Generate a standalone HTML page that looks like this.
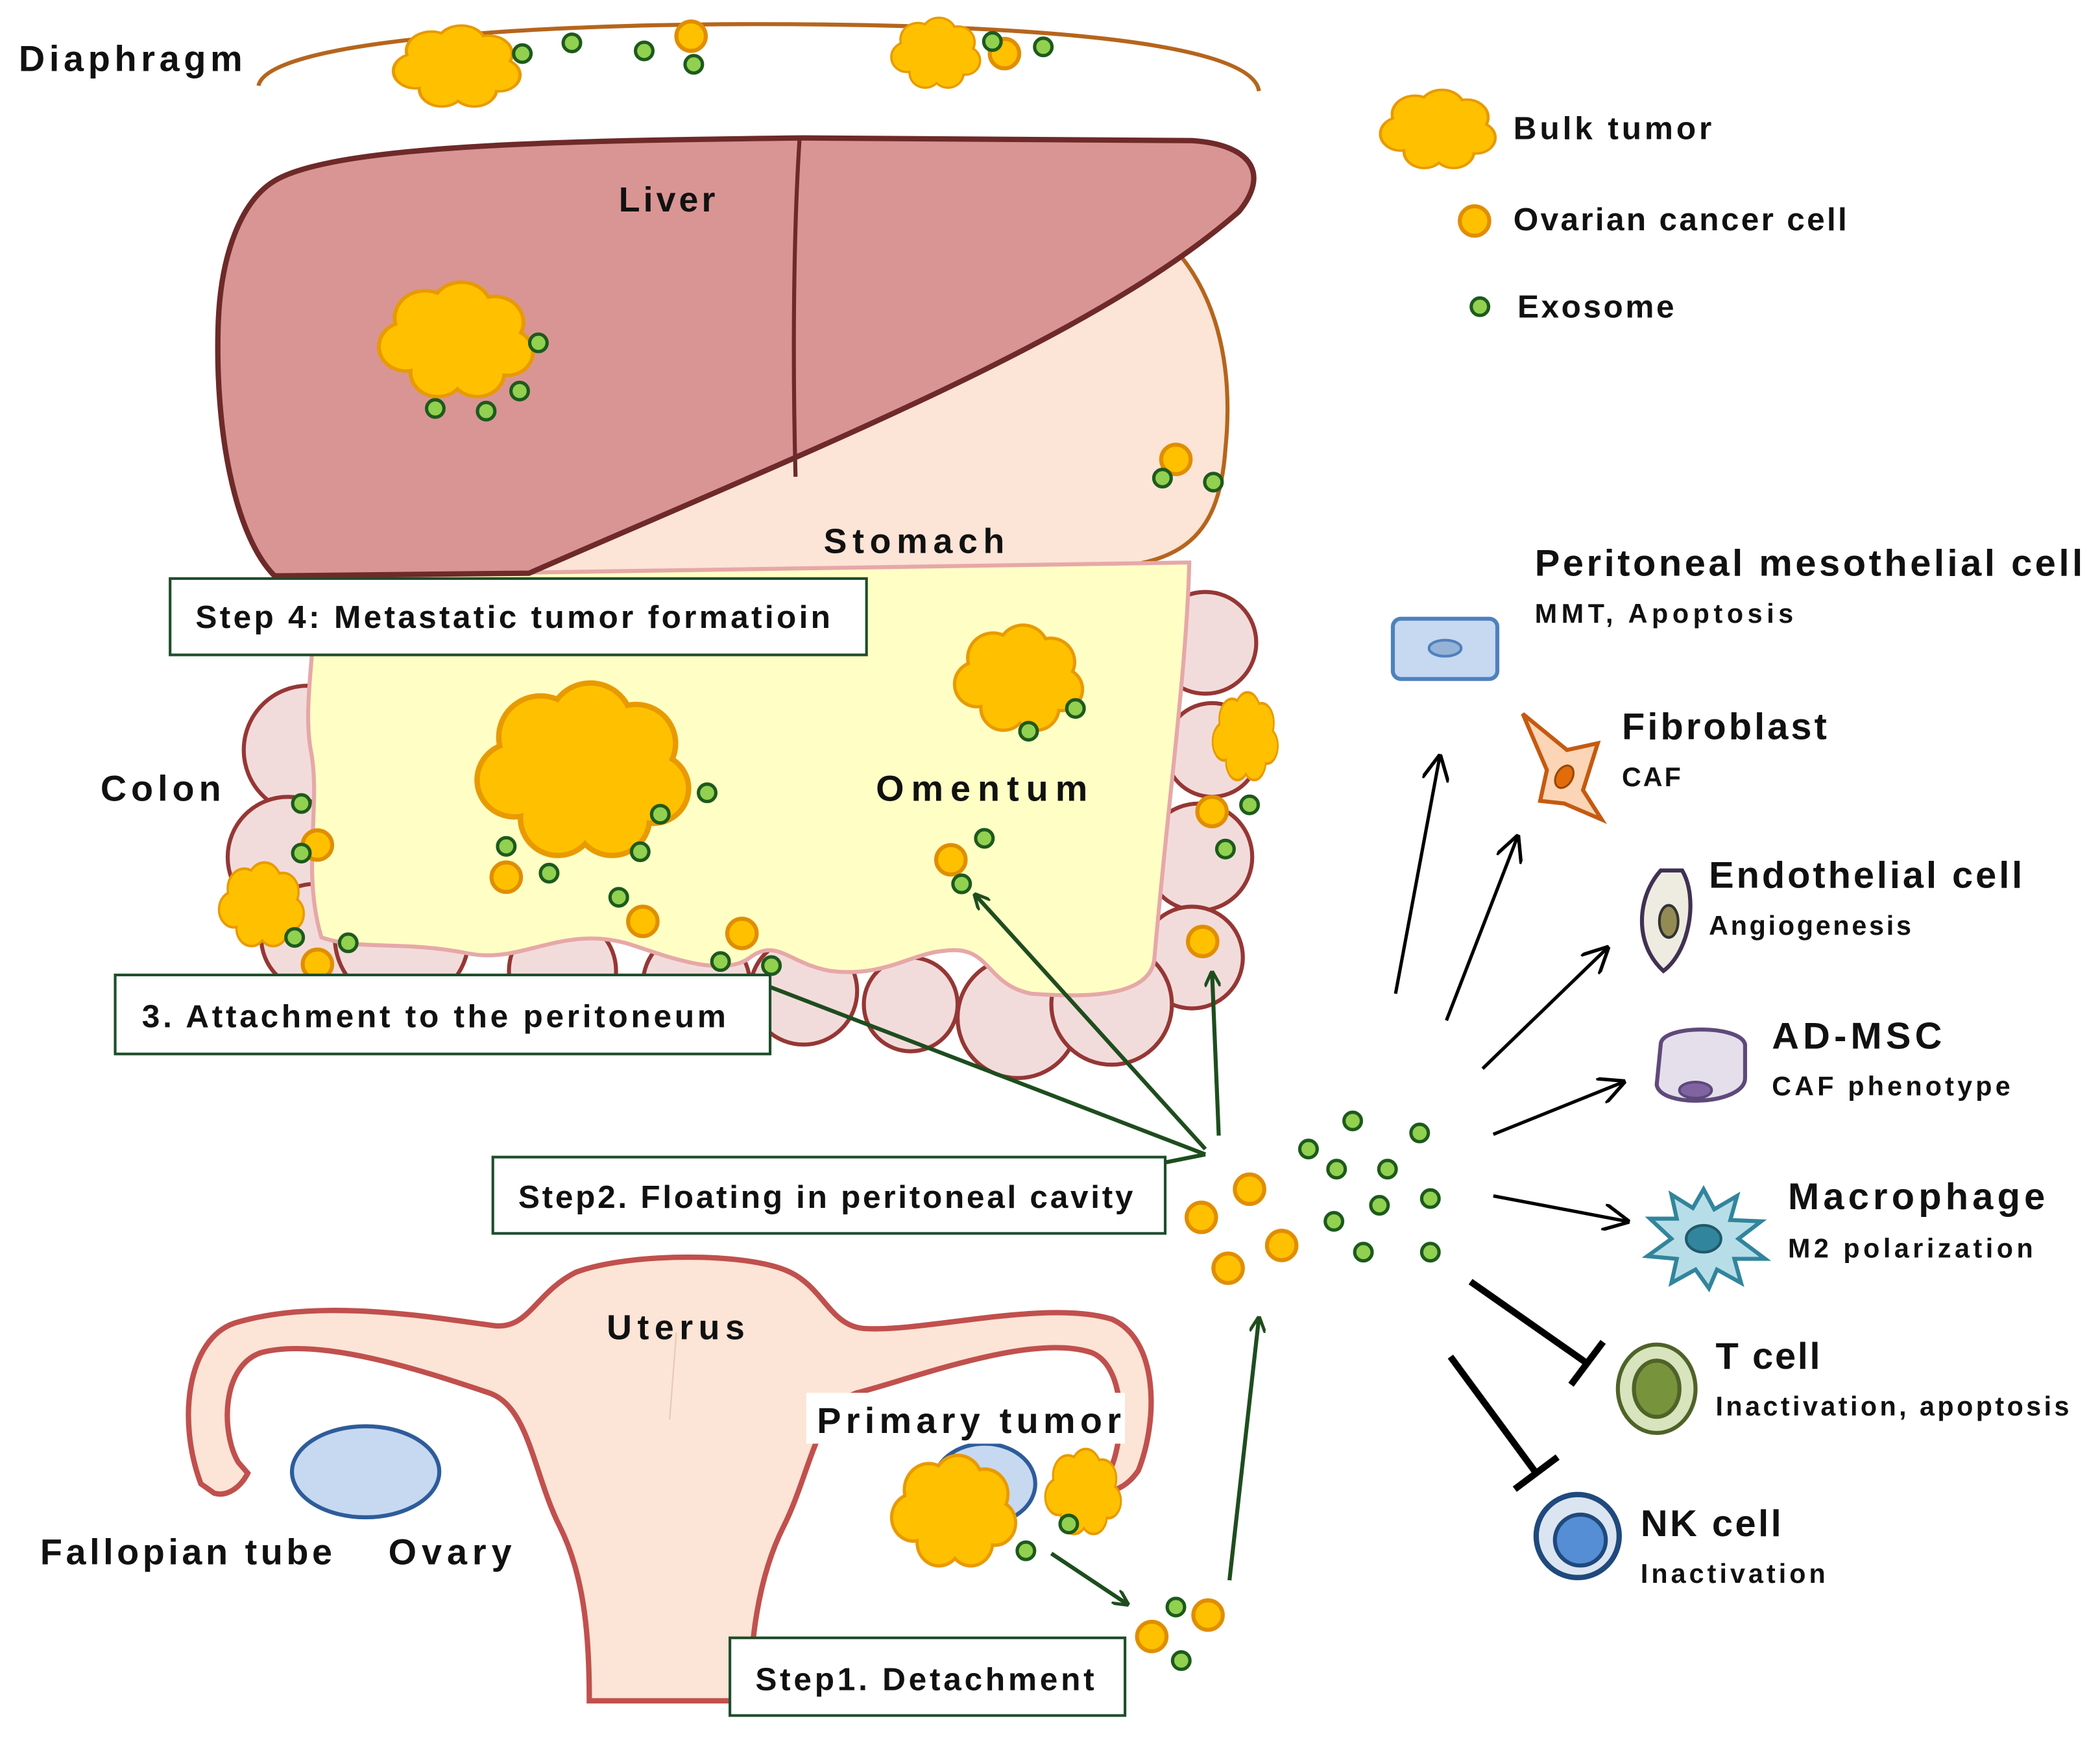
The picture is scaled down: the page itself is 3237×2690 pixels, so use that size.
<!DOCTYPE html>
<html><head><meta charset="utf-8"><style>
html,body{margin:0;padding:0;background:#fff;}
svg{display:block;}
text{font-family:"Liberation Sans",sans-serif;font-weight:bold;fill:#111;}
</style></head><body>
<svg width="3237" height="2690" viewBox="0 0 1568 1303" xmlns="http://www.w3.org/2000/svg">
<defs>
<symbol id="tum" viewBox="0 0 100 80" preserveAspectRatio="none" overflow="visible">
<g fill="#ffc000" stroke="#e89a00" stroke-width="5">
<circle cx="30" cy="24" r="18"/><circle cx="53" cy="18" r="18"/><circle cx="74" cy="27" r="17"/><circle cx="82" cy="48" r="15"/><circle cx="63" cy="62" r="16"/><circle cx="38" cy="62" r="16"/><circle cx="18" cy="44" r="16"/></g>
<g fill="#ffc000"><circle cx="30" cy="24" r="18"/><circle cx="53" cy="18" r="18"/><circle cx="74" cy="27" r="17"/><circle cx="82" cy="48" r="15"/><circle cx="63" cy="62" r="16"/><circle cx="38" cy="62" r="16"/><circle cx="18" cy="44" r="16"/><circle cx="50" cy="42" r="28"/></g>
</symbol>
<symbol id="c" overflow="visible"><circle cx="0" cy="0" r="11" fill="#ffc000" stroke="#e08e00" stroke-width="3"/></symbol>
<symbol id="e" overflow="visible"><circle cx="0" cy="0" r="6.5" fill="#92d050" stroke="#1d5a1d" stroke-width="2.5"/></symbol>
<marker id="ag" viewBox="0 0 10 10" refX="9" refY="5" markerWidth="12" markerHeight="12" orient="auto" markerUnits="userSpaceOnUse"><path d="M0,0 L10,5 L0,10" fill="none" stroke="#1e4d1e" stroke-width="2"/></marker>
<marker id="ab" viewBox="0 0 10 10" refX="9" refY="5" markerWidth="20" markerHeight="20" orient="auto" markerUnits="userSpaceOnUse"><path d="M0,0 L10,5 L0,10" fill="none" stroke="#000" stroke-width="1.3"/></marker>
</defs>

<!-- Diaphragm -->
<path d="M193,64 C200,30 400,18 565,18 C760,18 935,30 940,68" fill="none" stroke="#b5651d" stroke-width="3"/>
<text x="14" y="53" font-size="27" textLength="167">Diaphragm</text>

<!-- Colon lumps -->
<g fill="#f2dcdb" stroke="#953735" stroke-width="3">
<circle cx="230" cy="560" r="48"/><circle cx="215" cy="640" r="45"/><circle cx="235" cy="700" r="40"/><circle cx="300" cy="700" r="50"/>
<circle cx="420" cy="725" r="40"/><circle cx="520" cy="735" r="40"/><circle cx="600" cy="740" r="40"/>
<circle cx="900" cy="480" r="38"/><circle cx="905" cy="560" r="35"/><circle cx="895" cy="640" r="40"/><circle cx="890" cy="715" r="38"/>
<circle cx="760" cy="760" r="45"/><circle cx="830" cy="750" r="45"/><circle cx="680" cy="750" r="35"/>
</g>
<!-- Stomach -->
<path d="M860,170 C905,205 922,265 915,335 C910,405 880,425 800,425 L300,432 C550,340 760,260 860,170 Z" fill="#fce4d6" stroke="#b5651d" stroke-width="3"/>
<!-- Omentum -->
<path d="M232,430 L888,420 C886,500 872,600 862,715 C860,745 810,745 770,742 C735,735 740,705 705,710 C680,712 660,730 620,725 C590,720 580,700 560,715 C540,730 500,715 470,705 C420,690 390,720 350,712 C300,702 270,710 240,700 C225,650 240,600 232,560 C225,520 240,470 232,430 Z" fill="#ffffc5" stroke="#e6a8a8" stroke-width="3"/>
<!-- Liver -->
<path d="M205,135 C250,108 420,105 600,103 L890,105 C935,108 948,130 925,158 C820,250 620,330 395,428 L205,430 C175,400 160,320 163,240 C165,190 180,150 205,135 Z" fill="#d99594" stroke="#6e2929" stroke-width="4"/>
<path d="M597,104 C592,180 592,280 594,356" fill="none" stroke="#6e2929" stroke-width="3"/>
<text x="462" y="158" font-size="26" textLength="72">Liver</text>
<text x="615" y="413" font-size="26" textLength="135">Stomach</text>
<text x="75" y="598" font-size="27" textLength="90">Colon</text>
<text x="654" y="598" font-size="27" textLength="158">Omentum</text>

<!-- Uterus -->
<path d="M150,1108 C132,1060 140,1000 175,988 C240,968 330,985 370,990 C395,992 400,965 430,950 C470,935 560,935 590,950 C615,962 620,990 645,992 C690,995 780,970 830,985 C865,1000 865,1060 850,1098 C835,1120 815,1115 810,1105 L830,1095 C840,1070 840,1020 815,1010 C770,995 680,1030 640,1040 C610,1050 605,1100 585,1140 C565,1180 560,1230 560,1270 L440,1270 C440,1230 438,1180 418,1140 C398,1100 395,1050 365,1040 C320,1025 240,998 195,1010 C165,1020 165,1070 178,1092 L185,1100 C180,1110 170,1118 160,1115 Z" fill="#fce4d6" stroke="#c0504d" stroke-width="4"/>
<path d="M505,995 L500,1060" stroke="#e8c8b8" stroke-width="1"/>
<ellipse cx="273" cy="1099" rx="55" ry="34" fill="#c6d9f1" stroke="#2e5c9a" stroke-width="3"/>
<ellipse cx="735" cy="1108" rx="38" ry="30" fill="#c6d9f1" stroke="#2e5c9a" stroke-width="3"/>
<text x="453" y="1000" font-size="26" textLength="103">Uterus</text>
<rect x="602" y="1040" width="238" height="38" fill="#fff"/>
<text x="610" y="1070" font-size="27" textLength="227">Primary tumor</text>
<text x="30" y="1168" font-size="27" textLength="218">Fallopian tube</text>
<text x="290" y="1168" font-size="27" textLength="92">Ovary</text>

<!-- Tumors -->
<use href="#tum" x="293" y="20" width="97" height="60"/>
<use href="#tum" x="665" y="14" width="68" height="52"/>
<use href="#tum" x="282" y="212" width="118" height="85"/>
<use href="#tum" x="355" y="512" width="162" height="128"/>
<use href="#tum" x="712" y="468" width="98" height="78"/>
<use href="#tum" x="905" y="518" width="50" height="65"/>
<use href="#tum" x="163" y="645" width="65" height="62"/>
<use href="#tum" x="665" y="1088" width="95" height="82"/>
<use href="#tum" x="780" y="1083" width="58" height="63"/>

<!-- cells -->
<g>
<use href="#c" x="516" y="27"/><use href="#c" x="750" y="40"/><use href="#c" x="878" y="343"/>
<use href="#c" x="237" y="631"/><use href="#c" x="378" y="655"/><use href="#c" x="480" y="688"/><use href="#c" x="554" y="697"/><use href="#c" x="710" y="642"/><use href="#c" x="905" y="606"/><use href="#c" x="898" y="703"/><use href="#c" x="237" y="720"/>
<use href="#c" x="897" y="909"/><use href="#c" x="933" y="888"/><use href="#c" x="957" y="930"/><use href="#c" x="917" y="947"/>
<use href="#c" x="860" y="1222"/><use href="#c" x="902" y="1206"/>
</g>
<g>
<use href="#e" x="390" y="40"/><use href="#e" x="427" y="32"/><use href="#e" x="481" y="38"/><use href="#e" x="518" y="48"/><use href="#e" x="741" y="31"/><use href="#e" x="779" y="35"/>
<use href="#e" x="402" y="256"/><use href="#e" x="388" y="292"/><use href="#e" x="363" y="307"/><use href="#e" x="325" y="305"/>
<use href="#e" x="868" y="357"/><use href="#e" x="906" y="360"/>
<use href="#e" x="493" y="608"/><use href="#e" x="528" y="592"/><use href="#e" x="478" y="636"/><use href="#e" x="378" y="632"/><use href="#e" x="410" y="652"/><use href="#e" x="462" y="670"/><use href="#e" x="538" y="718"/><use href="#e" x="576" y="721"/><use href="#e" x="768" y="546"/><use href="#e" x="803" y="529"/><use href="#e" x="735" y="626"/><use href="#e" x="718" y="660"/><use href="#e" x="933" y="601"/><use href="#e" x="915" y="634"/><use href="#e" x="225" y="600"/><use href="#e" x="225" y="637"/><use href="#e" x="220" y="700"/><use href="#e" x="260" y="704"/>
<use href="#e" x="977" y="858"/><use href="#e" x="1010" y="837"/><use href="#e" x="1060" y="846"/><use href="#e" x="998" y="873"/><use href="#e" x="1036" y="873"/><use href="#e" x="1068" y="895"/><use href="#e" x="996" y="912"/><use href="#e" x="1030" y="900"/><use href="#e" x="1018" y="935"/><use href="#e" x="1068" y="935"/>
<use href="#e" x="878" y="1200"/><use href="#e" x="882" y="1240"/><use href="#e" x="766" y="1158"/><use href="#e" x="798" y="1138"/>
</g>

<!-- green arrows -->
<g stroke="#1e4d1e" stroke-width="3" fill="none">
<line x1="575" y1="737" x2="900" y2="862"/>
<line x1="870" y1="868" x2="900" y2="862"/>
<line x1="900" y1="858" x2="728" y2="668" marker-end="url(#ag)"/>
<line x1="910" y1="848" x2="905" y2="726" marker-end="url(#ag)"/>
<line x1="918" y1="1180" x2="940" y2="984" marker-end="url(#ag)"/>
<line x1="785" y1="1160" x2="842" y2="1198" marker-end="url(#ag)"/>
</g>

<!-- boxes -->
<g fill="#fff" stroke="#1e4d2b" stroke-width="2">
<rect x="127" y="432" width="520" height="57"/>
<rect x="86" y="728" width="489" height="59"/>
<rect x="368" y="864" width="502" height="57"/>
<rect x="545" y="1223" width="295" height="58"/>
</g>
<g font-size="24">
<text x="146" y="469" textLength="474">Step 4: Metastatic tumor formatioin</text>
<text x="106" y="767" textLength="436">3. Attachment to the peritoneum</text>
<text x="387" y="902" textLength="459">Step2. Floating  in peritoneal cavity</text>
<text x="564" y="1262" textLength="253">Step1. Detachment</text>
</g>

<!-- Legend -->
<use href="#tum" x="1030" y="68" width="88" height="58"/>
<use href="#c" x="1101" y="165"/>
<use href="#e" x="1105" y="229"/>
<text x="1130" y="104" font-size="24" textLength="148">Bulk tumor</text>
<text x="1130" y="172" font-size="24" textLength="249">Ovarian cancer cell</text>
<text x="1133" y="237" font-size="24" textLength="117">Exosome</text>

<!-- black arrows -->
<g stroke="#000" stroke-width="2.5" fill="none">
<line x1="1042" y1="742" x2="1075" y2="565" marker-end="url(#ab)"/>
<line x1="1080" y1="762" x2="1133" y2="625" marker-end="url(#ab)"/>
<line x1="1107" y1="798" x2="1200" y2="708" marker-end="url(#ab)"/>
<line x1="1115" y1="847" x2="1212" y2="808" marker-end="url(#ab)"/>
<line x1="1115" y1="893" x2="1215" y2="912" marker-end="url(#ab)"/>
</g>
<g stroke="#000" stroke-width="5" fill="none">
<line x1="1098" y1="957" x2="1185" y2="1018"/><line x1="1173" y1="1034" x2="1197" y2="1002"/>
<line x1="1083" y1="1013" x2="1147" y2="1100"/><line x1="1131" y1="1112" x2="1163" y2="1088"/>
</g>

<!-- right icons -->
<rect x="1040" y="462" width="78" height="45" rx="6" fill="#c6d9f1" stroke="#4f81bd" stroke-width="3"/>
<ellipse cx="1079" cy="484" rx="12" ry="6" fill="#95b3d7" stroke="#4f81bd" stroke-width="2"/>
<path d="M1137,533 L1170,560 L1193,555 L1182,590 L1196,612 L1168,600 L1150,598 L1155,575 Z" fill="#fbd5b5" stroke="#c55a11" stroke-width="3"/>
<ellipse cx="1168" cy="580" rx="6" ry="9" fill="#e26b0a" stroke="#974806" stroke-width="1.5" transform="rotate(30 1168 580)"/>
<path d="M1240,650 C1222,670 1220,705 1242,725 C1262,710 1268,670 1256,650 Z" fill="#eeece1" stroke="#403152" stroke-width="3"/>
<ellipse cx="1246" cy="688" rx="7" ry="12" fill="#948a54" stroke="#333" stroke-width="2"/>
<path d="M1240,780 C1240,765 1300,765 1303,780 L1303,805 C1303,825 1240,828 1237,810 Z" fill="#e5dfec" stroke="#5f497a" stroke-width="3"/>
<ellipse cx="1266" cy="814" rx="12" ry="6" fill="#8064a2" stroke="#5f497a" stroke-width="2"/>
<polygon points="1272,888 1280,903 1297,893 1292,911 1315,912 1298,925 1318,940 1295,940 1300,958 1282,948 1276,962 1266,948 1248,958 1252,940 1230,938 1248,925 1232,910 1252,910 1248,892 1264,902" fill="#b7dee8" stroke="#31859c" stroke-width="3"/>
<ellipse cx="1272" cy="925" rx="13" ry="10" fill="#31859c" stroke="#215968" stroke-width="2"/>
<ellipse cx="1237" cy="1037" rx="29" ry="33" fill="#d7e4bd" stroke="#4f6228" stroke-width="3"/>
<ellipse cx="1237" cy="1037" rx="17" ry="21" fill="#77933c" stroke="#4f6228" stroke-width="3"/>
<circle cx="1178" cy="1147" r="31" fill="#dbe5f1" stroke="#1f497d" stroke-width="4"/>
<circle cx="1180" cy="1150" r="19" fill="#558ed5" stroke="#1f497d" stroke-width="3"/>

<text x="1146" y="430" font-size="28" textLength="409">Peritoneal mesothelial cell</text>
<text x="1146" y="465" font-size="20" textLength="193">MMT, Apoptosis</text>
<text x="1211" y="552" font-size="28" textLength="153">Fibroblast</text>
<text x="1211" y="587" font-size="20" textLength="44">CAF</text>
<text x="1276" y="663" font-size="28" textLength="234">Endothelial cell</text>
<text x="1276" y="698" font-size="20" textLength="151">Angiogenesis</text>
<text x="1323" y="783" font-size="28" textLength="127">AD-MSC</text>
<text x="1323" y="818" font-size="20" textLength="178">CAF phenotype</text>
<text x="1335" y="903" font-size="28" textLength="192">Macrophage</text>
<text x="1335" y="939" font-size="20" textLength="183">M2 polarization</text>
<text x="1281" y="1022" font-size="28" textLength="78">T cell</text>
<text x="1281" y="1057" font-size="20" textLength="264">Inactivation, apoptosis</text>
<text x="1225" y="1147" font-size="28" textLength="105">NK cell</text>
<text x="1225" y="1182" font-size="20" textLength="138">Inactivation</text>
</svg>
</body></html>
